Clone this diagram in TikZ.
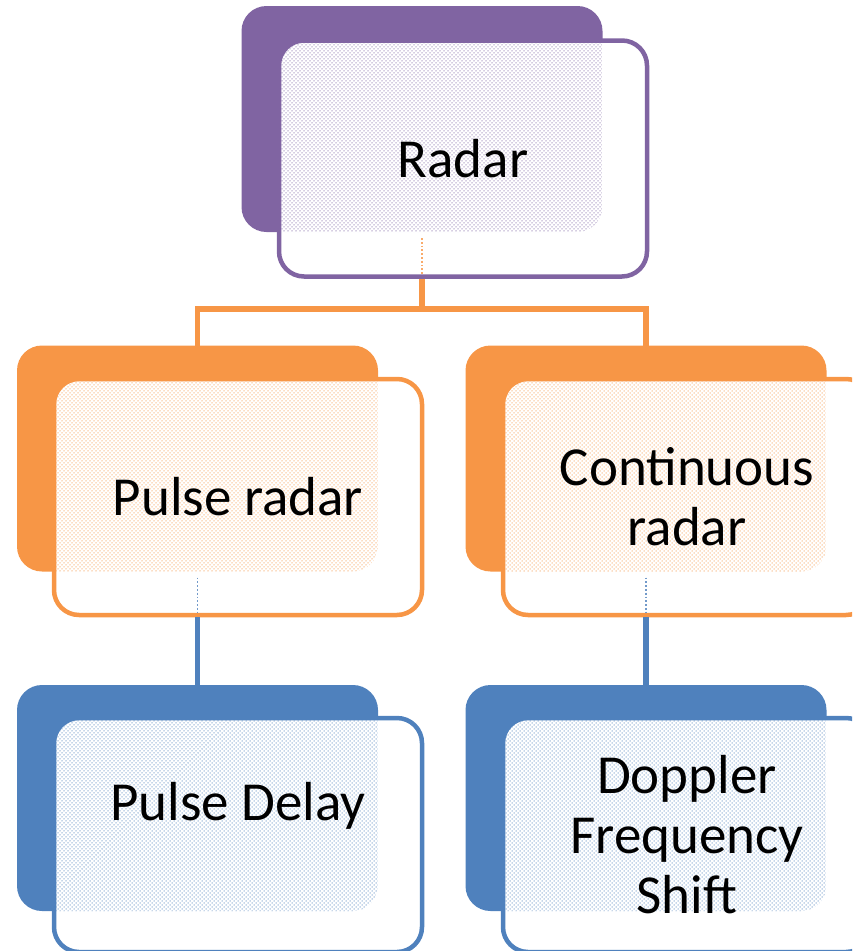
\documentclass[tikz,border=0pt]{standalone}
\usepackage{fontspec}
\setmainfont{Carlito}
\usetikzlibrary{patterns}
\definecolor{cpurple}{HTML}{8064A2}
\definecolor{corange}{HTML}{F79646}
\definecolor{cblue}{HTML}{4F81BD}
\pgfdeclarepatternformonly{sdots}{\pgfqpoint{-1pt}{-1pt}}{\pgfqpoint{5pt}{5pt}}{\pgfqpoint{4pt}{4pt}}%
{\pgfpathcircle{\pgfqpoint{0pt}{0pt}}{.75pt}\pgfpathcircle{\pgfqpoint{2pt}{2pt}}{.75pt}\pgfusepath{fill}}
\begin{document}
\begin{tikzpicture}[x=1pt,y=-1pt,
  backbox/.style={draw=none, fill=#1, rounded corners=25pt,
    minimum width=361pt, minimum height=226pt, inner sep=0pt, outer sep=0pt},
  frontbox/.style 2 args={draw=#1, line width=4.5pt, fill=white, rounded corners=25pt,
    minimum width=368pt, minimum height=236pt, inner sep=0pt, outer sep=0pt,
    align=center, text=black, font=\fontsize{55}{60}\selectfont,
    path picture={\fill[pattern=sdots, pattern color=#1!65, rounded corners=25pt]
      (#2.north west) rectangle (#2.south east);}},
  link/.style={draw=#1, line width=5.5pt, line join=miter},
  seelink/.style={draw=#1!80, line width=1.8pt, dotted}]
\path[use as bounding box, clip] (0,0) rectangle (852,951);

% back boxes
\node[backbox=cpurple] (radarB) at (422,119) {};
\node[backbox=corange] (pulseB) at (197.5,458.5) {};
\node[backbox=corange] (contB) at (646,458.5) {};
\node[backbox=cblue] (delayB) at (197.5,798) {};
\node[backbox=cblue] (dopB) at (646,798) {};

% front boxes
\node[frontbox={cpurple}{radarB}] (radarF) at (463,158.5) {Radar};
\node[frontbox={corange}{pulseB}] (pulseF) at (238,497) {Pulse radar};
\node[frontbox={corange}{contB}] (contF) at (687,497) {Continuous\\radar};
\node[frontbox={cblue}{delayB}, minimum height=234pt] (delayF) at (238,835)
  {\raisebox{29pt}[\height][\depth]{Pulse Delay}};
\node[frontbox={cblue}{dopB}, minimum height=234pt] (dopF) at (687,835)
  {Doppler\\Frequency\\Shift};

% connectors (solid parts)
\coordinate (jt) at (422,309);
\draw[link=corange] ([yshift=-2pt]radarB.south |- radarF.south) -- (jt);
\draw[link=corange] (pulseB.north) |- (jt) -| (contB.north);
\draw[link=cblue] ([yshift=-2pt]pulseB.south |- pulseF.south) -- (delayB.north);
\draw[link=cblue] ([yshift=-2pt]contB.south |- contF.south) -- (dopB.north);

% connectors seen through the front boxes
\draw[seelink=corange] ([yshift=-6pt]radarB.south) -- ([yshift=3pt]radarB.south |- radarF.south);
\draw[seelink=cblue] ([yshift=-6pt]pulseB.south) -- ([yshift=3pt]pulseB.south |- pulseF.south);
\draw[seelink=cblue] ([yshift=-6pt]contB.south) -- ([yshift=3pt]contB.south |- contF.south);
\end{tikzpicture}
\end{document}
